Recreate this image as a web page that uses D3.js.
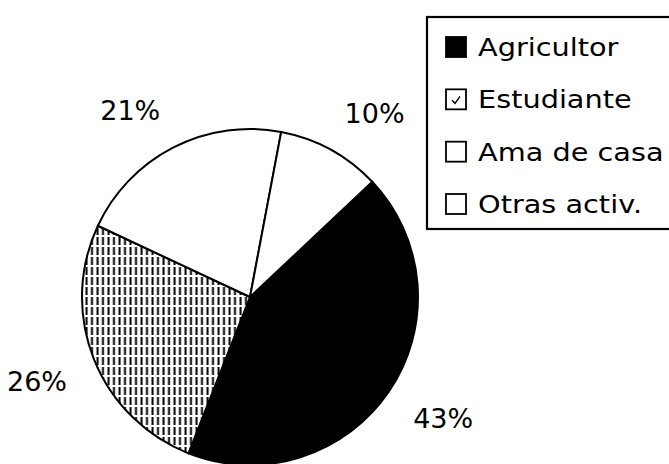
<!DOCTYPE html>
<html>
<head>
<meta charset="utf-8">
<script src="https://cdn.jsdelivr.net/npm/d3@7"></script>
<style>
  body { margin: 0; background: #fff; }
  svg { display: block; }
</style>
</head>
<body>
<svg id="chart" width="669" height="464"></svg>
<script>
// data
const categories = ["Agricultor", "Estudiante", "Ama de casa", "Otras activ."]
const shares = [43, 26, 21, 10]
const pctLabels = ["43%", "26%", "21%", "10%"]

const width = 669
const height = 464
const cx = 250, cy = 297
const radius = 168

const svg = d3.select("#chart")

const defs = svg.append("defs")
// vertical broken hatch for Estudiante
const hatch = defs.append("pattern")
    .attr("id", "hatch")
    .attr("patternUnits", "userSpaceOnUse")
    .attr("width", 5.5)
    .attr("height", 10)
hatch.append("rect").attr("width", 5.5).attr("height", 10).attr("fill", "#fff")
hatch.append("line")
    .attr("x1", 1.5).attr("x2", 1.5).attr("y1", 0).attr("y2", 8)
    .attr("stroke", "#000").attr("stroke-width", 2)

const fills = ["#000", "url(#hatch)", "#fff", "#fff"]

const pie = d3.pie()
    .sort(null)
    .value(d => d)
    .startAngle(46.7 * Math.PI / 180)
    .endAngle(46.7 * Math.PI / 180 + 2 * Math.PI)

const arcs = pie(shares)
const arc = d3.arc().innerRadius(0).outerRadius(radius)
const labelArc = d3.arc().innerRadius(197).outerRadius(197)

const g = svg.append("g").attr("transform", `translate(${cx},${cy})`)

g.selectAll("path")
    .data(arcs)
    .join("path")
    .attr("d", arc)
    .attr("fill", (d, i) => fills[i])
    .attr("stroke", "#000")
    .attr("stroke-width", 2)
    .attr("stroke-linejoin", "round")

// label box sits just outside the pie, pushed away by half its size
function labelPos(d) {
    const [x, y] = labelArc.centroid(d)
    return [x + 30 * Math.sign(x), y + 11 * Math.sign(y)]
}

g.selectAll("text")
    .data(arcs)
    .join("text")
    .attr("transform", d => `translate(${labelPos(d)})`)
    .attr("text-anchor", "middle")
    .attr("dy", "0.36em")
    .attr("font-family", "'DejaVu Sans', sans-serif")
    .attr("font-size", 27)
    .attr("fill", "#000")
    .text((d, i) => pctLabels[i])

// legend
const legend = svg.append("g")
legend.append("rect")
    .attr("x", 427).attr("y", 17)
    .attr("width", 260).attr("height", 212)
    .attr("fill", "#fff")
    .attr("stroke", "#000")
    .attr("stroke-width", 2.2)

const legendY = d3.scalePoint()
    .domain(categories)
    .range([47, 204])

const item = legend.selectAll("g.item")
    .data(categories)
    .join("g")
    .attr("class", "item")
    .attr("transform", d => `translate(446,${legendY(d)})`)

item.append("rect")
    .attr("x", 0).attr("y", -10)
    .attr("width", 20).attr("height", 20)
    .attr("fill", (d, i) => i === 0 ? "#000" : "#fff")
    .attr("stroke", "#000")
    .attr("stroke-width", 1.8)

// little tick mark inside the Estudiante swatch
item.filter((d, i) => i === 1)
    .append("path")
    .attr("d", "M6,1 L9,4 L14,-3")
    .attr("fill", "none")
    .attr("stroke", "#000")
    .attr("stroke-width", 1.4)

item.append("text")
    .attr("transform", "translate(32,0) scale(1.15,1)")
    .attr("dy", "0.36em")
    .attr("font-family", "'DejaVu Sans', sans-serif")
    .attr("font-size", 25)
    .attr("fill", "#000")
    .text(d => d)
</script>
</body>
</html>
